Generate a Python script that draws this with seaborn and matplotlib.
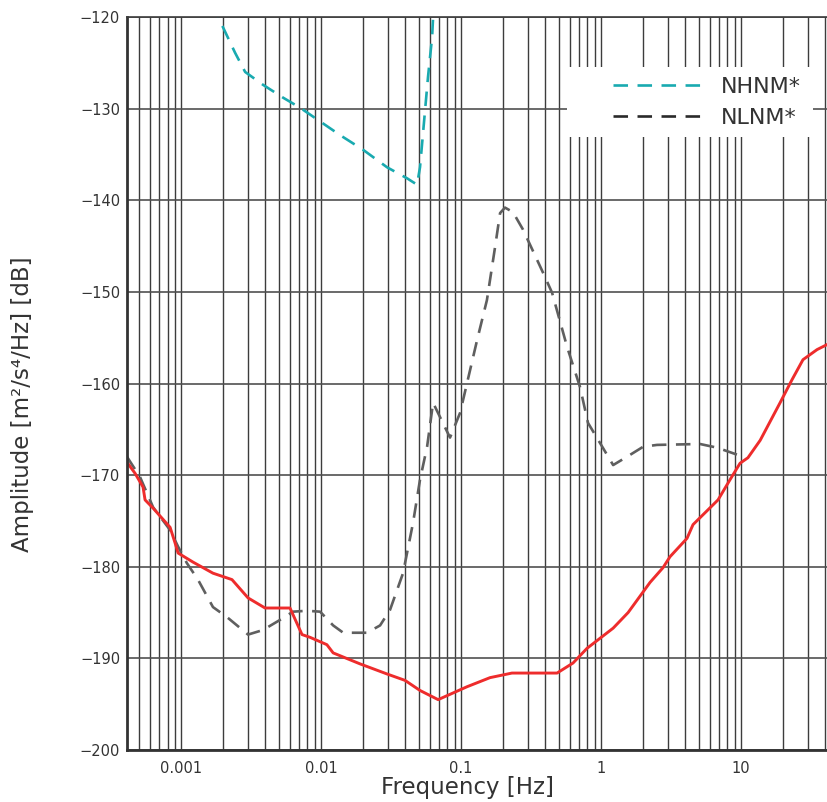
import numpy as np
import pandas as pd
import matplotlib
matplotlib.use('Agg')
import matplotlib.pyplot as plt
import matplotlib.ticker as mticker
import matplotlib.patches as patches
import seaborn as sns

# Datos (frecuencia en Hz, amplitud en dB)
nhnm_f = [1.75e-3, 1.84e-3, 2.43e-3, 2.87e-3, 3.85e-3, 5.35e-3, 7.08e-3, 0.0137,
          0.0200, 0.0296, 0.0411, 0.0485, 0.0509, 0.0553, 0.0581, 0.0621, 0.0631, 0.0640]
nhnm_db = [-118.5, -120.0, -123.9, -126.0, -127.4, -128.8, -129.9, -132.9,
           -134.5, -136.4, -137.6, -138.3, -136.4, -130.2, -126.5, -122.2, -120.1, -118.0]

nlnm_f = [4.11e-4, 5.09e-4, 6.31e-4, 8.35e-4, 9.52e-4, 1.10e-3, 1.32e-3, 1.69e-3,
          2.13e-3, 3.01e-3, 3.85e-3, 5.09e-3, 6.31e-3, 7.94e-3, 9.84e-3, 0.0122,
          0.0144, 0.0213, 0.0264, 0.0311, 0.0385, 0.0454, 0.0509, 0.0572, 0.0631,
          0.0834, 0.0984, 0.130, 0.153, 0.175, 0.190, 0.206, 0.235, 0.277, 0.385,
          0.447, 0.572, 0.708, 0.807, 0.984, 1.22, 1.53, 2.0, 2.51, 5.09, 6.74, 9.52]
nlnm_db = [-168.0, -170.2, -173.5, -176.0, -177.8, -179.6, -181.4, -184.4,
           -185.5, -187.4, -186.9, -185.8, -184.9, -184.8, -184.9, -186.4,
           -187.2, -187.2, -186.4, -184.7, -180.7, -175.2, -170.5, -166.9, -162.1,
           -165.9, -163.2, -155.3, -150.9, -145.1, -141.4, -140.8, -141.3, -143.2, -147.9,
           -150.1, -156.0, -160.4, -164.3, -166.5, -168.9, -168.0, -166.9, -166.7, -166.6, -167.0, -167.8]

sensor_f = [4.11e-4, 4.69e-4, 5.35e-4, 5.53e-4, 6.31e-4, 8.35e-4, 9.06e-4, 9.52e-4,
            1.22e-3, 1.69e-3, 2.31e-3, 3.01e-3, 3.98e-3, 6.0e-3, 7.31e-3, 8.34e-3,
            0.0110, 0.0122, 0.0190, 0.0296, 0.0398, 0.0509, 0.0686, 0.110, 0.161,
            0.231, 0.485, 0.631, 0.794, 1.22, 1.56, 2.24, 2.77, 3.11, 4.11, 4.54,
            6.85, 8.34, 9.84, 11.2, 13.7, 19.0, 23.1, 27.7, 34.9, 41.8]
sensor_db = [-168.6, -169.8, -171.3, -172.7, -173.6, -175.7, -177.4, -178.5,
             -179.5, -180.7, -181.4, -183.4, -184.5, -184.5, -187.4, -187.7,
             -188.5, -189.4, -190.6, -191.7, -192.4, -193.5, -194.5, -193.1, -192.1,
             -191.6, -191.6, -190.5, -188.9, -186.7, -185.0, -181.7, -180.1, -178.9, -176.9, -175.4,
             -172.7, -170.5, -168.7, -168.1, -166.2, -162.1, -159.6, -157.4, -156.3, -155.7]

sns.set_style('white')
plt.rcParams['font.family'] = ['DejaVu Sans']
gris = '#333333'

fig = plt.figure(figsize=(8.28, 8.02), dpi=100)
ax = fig.add_axes([0.1534, 0.0648, 0.8466, 0.914])

# Rejilla logaritmica
ax.set_xscale('log')
ax.xaxis.set_major_locator(mticker.LogLocator(base=10))
ax.xaxis.set_minor_locator(mticker.LogLocator(base=10, subs=np.arange(2, 10)))
ax.xaxis.set_minor_formatter(mticker.NullFormatter())
ax.grid(which='major', axis='x', color='#3c3c3c', lw=1.0)
ax.grid(which='minor', axis='x', color='#3c3c3c', lw=1.0)
ax.grid(which='major', axis='y', color='#505050', lw=1.2)
ax.set_axisbelow(True)

dash = (0, (5.5, 3.6))
sns.lineplot(x=nhnm_f, y=nhnm_db, ax=ax, color='#19aab0', lw=1.9,
             linestyle=dash, estimator=None, sort=False, label='NHNM*')
sns.lineplot(x=nlnm_f, y=nlnm_db, ax=ax, color='#5f5f5f', lw=1.9,
             linestyle=dash, estimator=None, sort=False, label='NLNM*')
sns.lineplot(x=sensor_f, y=sensor_db, ax=ax, color='#ee2c2c', lw=2.1,
             estimator=None, sort=False)

ax.set_xlim(4.11e-4, 41.8)
ax.set_ylim(-200, -120)
ax.set_yticks(np.arange(-200, -119, 10))
ax.set_xticks([0.001, 0.01, 0.1, 1, 10])
ax.set_xticklabels(['0.001', '0.01', '0.1', '1', '10'])

ax.tick_params(axis='both', which='both', length=0, labelsize=10.5, labelcolor=gris)
ax.tick_params(axis='x', pad=8)
ax.tick_params(axis='y', pad=5)

ax.set_xlabel('Frequency [Hz]', fontsize=16.5, color=gris)
ax.set_ylabel('Amplitude [m²/s⁴/Hz] [dB]', fontsize=16.5, color=gris)
ax.xaxis.set_label_coords(0.486, -0.036)
ax.yaxis.set_label_coords(-0.133, 0.472)

for s in ['left', 'bottom']:
    ax.spines[s].set_color(gris)
    ax.spines[s].set_linewidth(2)
ax.spines['top'].set_color('#3c3c3c')
ax.spines['top'].set_linewidth(1.2)
ax.spines['right'].set_visible(False)

# Caja blanca detras de la leyenda
ax.add_patch(patches.Rectangle((0.6277, 0.8363), 0.3509, 0.0955, transform=ax.transAxes,
                               facecolor='white', edgecolor='none', zorder=2.5))

leg = ax.legend(loc='center right', bbox_to_anchor=(0.961, 0.8834), fontsize=16,
                frameon=False, handlelength=4.05, handletextpad=0.8,
                borderpad=0, labelspacing=0.5, borderaxespad=0)
leg.set_zorder(3)
for t in leg.get_texts():
    t.set_color(gris)
leg.get_lines()[1].set_color('#2a2a2a')

fig.savefig('out.png', dpi=100)
